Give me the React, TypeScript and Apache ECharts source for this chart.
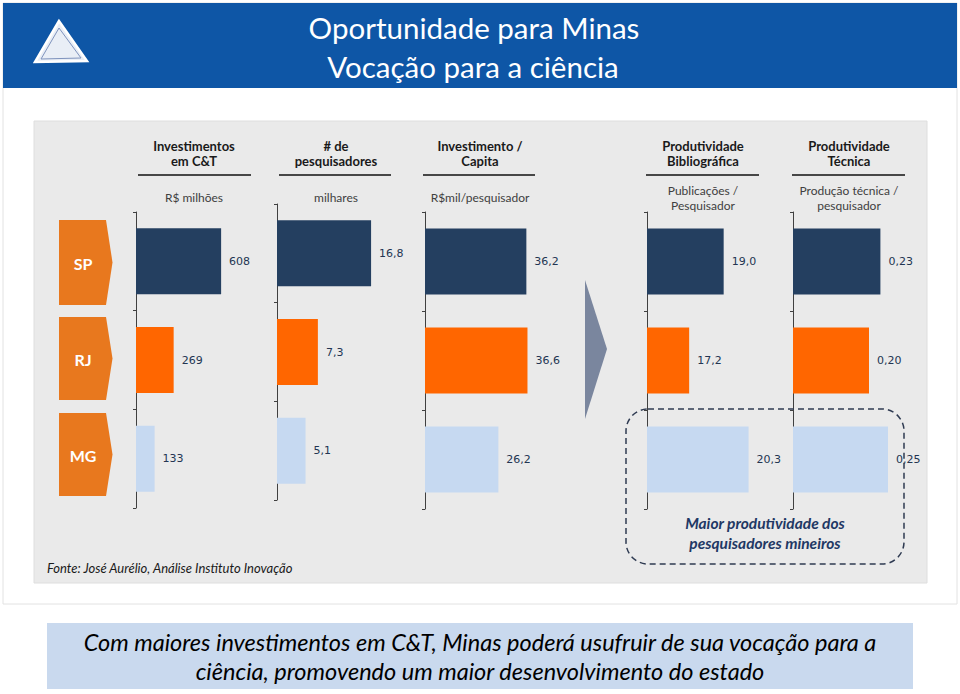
import React, { useEffect, useRef } from "react";
import * as echarts from "echarts";

const states = ["SP", "RJ", "MG"];
const investimentos = [608, 269, 133];
const pesquisadores = [16.8, 7.3, 5.1];
const investPorCapita = [36.2, 36.6, 26.2];
const prodBibliografica = [19.0, 17.2, 20.3];
const prodTecnica = [0.23, 0.2, 0.25];

const headerLine1 = ["Investimentos", "# de", "Investimento /", "Produtividade", "Produtividade"];
const headerLine2 = ["em C&T", "pesquisadores", "Capita", "Bibliográfica", "Técnica"];
const unitLine1 = ["R$ milhões", "milhares", "R$mil/pesquisador", "Publicações /", "Produção técnica /"];
const unitLine2 = ["", "", "", "Pesquisador", "pesquisador"];

const stateColors = ["#243F60", "#FF6600", "#C6D9F1"];

const FONT = "Lato, 'Open Sans', sans-serif";

export default function App() {
  const ref = useRef<HTMLDivElement>(null);

  useEffect(() => {
    if (!ref.current) return;
    const chart = echarts.init(ref.current, null, { renderer: "svg" });

    const columns = [
      { data: investimentos, left: 136, top: 212, height: 296, width: 112, min: 0, max: 800, dec: 0, cx: 194 },
      { data: pesquisadores, left: 277, top: 204, height: 296, width: 112, min: 0, max: 20, dec: 1, cx: 336 },
      { data: investPorCapita, left: 425, top: 212, height: 297, width: 112, min: 0, max: 40, dec: 1, cx: 480 },
      { data: prodBibliografica, left: 647, top: 212, height: 297, width: 115, min: 15, max: 21, dec: 1, cx: 703 },
      { data: prodTecnica, left: 793, top: 212, height: 297, width: 114, min: 0, max: 0.3, dec: 2, cx: 849 },
    ];
    const underlines = [
      [138, 251],
      [279, 391],
      [423, 535],
      [646, 759],
      [792, 905],
    ];

    const grid = columns.map((c) => ({ left: c.left, top: c.top, width: c.width, height: c.height }));
    const xAxis = columns.map((c, i) => ({
      type: "value",
      gridIndex: i,
      min: c.min,
      max: c.max,
      show: false,
      splitLine: { show: false },
    }));
    const yAxis = columns.map((c, i) => ({
      type: "category",
      gridIndex: i,
      data: states,
      inverse: true,
      axisLine: { show: true, lineStyle: { color: "#404040", width: 1 } },
      axisTick: { show: true, length: 3, lineStyle: { color: "#404040" } },
      axisLabel: { show: false },
    }));
    const series = columns.map((c, i) => ({
      type: "bar",
      xAxisIndex: i,
      yAxisIndex: i,
      data: c.data,
      barWidth: 66,
      itemStyle: { color: (p: any) => stateColors[p.dataIndex] },
      label: {
        show: true,
        position: "right",
        distance: 8,
        color: "#233552",
        fontFamily: "'DejaVu Sans', Verdana, sans-serif",
        fontSize: 11,
        formatter: (p: any) => Number(p.value).toFixed(c.dec).replace(".", ","),
      },
    }));

    const txt = (text: string, x: number, y: number, o: any = {}) => ({
      type: "text",
      z: o.z ?? 5,
      style: {
        text,
        x,
        y,
        fill: o.fill ?? "#1a1a1a",
        fontFamily: o.fontFamily ?? FONT,
        fontSize: o.fontSize ?? 12,
        fontWeight: o.fontWeight ?? "normal",
        fontStyle: o.fontStyle ?? "normal",
        align: o.align ?? "center",
        textAlign: o.align ?? "center",
        verticalAlign: "middle",
        textVerticalAlign: "middle",
      },
    });

    const graphic: any[] = [];
    // page frame
    graphic.push({ type: "rect", z: -20, shape: { x: 3, y: 3, width: 954, height: 601 }, style: { fill: "#ffffff", stroke: "#e2e2e2", lineWidth: 1 } });
    // header band
    graphic.push({ type: "rect", z: -10, shape: { x: 3, y: 3, width: 954, height: 85 }, style: { fill: "#0E56A6" } });
    // logo
    graphic.push({ type: "polygon", z: 5, shape: { points: [[59, 21], [35, 62], [87, 61]] }, style: { fill: "#E9EEF6", stroke: "#ffffff", lineWidth: 2.5 } });
    graphic.push({ type: "polygon", z: 6, shape: { points: [[59, 28], [41, 59], [81, 58]] }, style: { fill: "none", stroke: "#7F93BD", lineWidth: 1 } });
    graphic.push(txt("Oportunidade para Minas", 474, 27, { fill: "#ffffff", fontSize: 29.5 }));
    graphic.push(txt("Vocação para a ciência", 473, 66, { fill: "#ffffff", fontSize: 29.5 }));
    // grey panel
    graphic.push({ type: "rect", z: -10, shape: { x: 34, y: 121, width: 893, height: 462 }, style: { fill: "#EAEAEA", stroke: "#DEDEDE", lineWidth: 1 } });

    columns.forEach((c, i) => {
      graphic.push(txt(headerLine1[i], c.cx, 146, { fontWeight: "bold", fontSize: 13 }));
      graphic.push(txt(headerLine2[i], c.cx, 161, { fontWeight: "bold", fontSize: 13 }));
      graphic.push({ type: "line", z: 5, shape: { x1: underlines[i][0], y1: 175, x2: underlines[i][1], y2: 175 }, style: { stroke: "#111111", lineWidth: 1.5 } });
      if (unitLine2[i]) {
        graphic.push(txt(unitLine1[i], c.cx, 190, { fill: "#404040", fontSize: 12 }));
        graphic.push(txt(unitLine2[i], c.cx, 205, { fill: "#404040", fontSize: 12 }));
      } else {
        graphic.push(txt(unitLine1[i], c.cx, 197, { fill: "#404040", fontSize: 12 }));
      }
    });

    // state chevrons
    const stateTops = [220, 317, 413];
    const stateBottoms = [305, 400, 496];
    states.forEach((s, i) => {
      const t = stateTops[i];
      const b = stateBottoms[i];
      const m = (t + b) / 2;
      graphic.push({
        type: "polygon",
        z: 5,
        shape: { points: [[59, t], [106, t], [112.5, m], [106, b], [59, b]] },
        style: { fill: "#E8781E" },
      });
      graphic.push(txt(s, 83, m + 1, { fill: "#ffffff", fontWeight: "bold", fontSize: 16 }));
    });

    // big arrow
    graphic.push({ type: "polygon", z: 5, shape: { points: [[585, 280], [607, 349], [585, 419]] }, style: { fill: "#7A869E" } });

    // dashed highlight
    graphic.push({
      type: "rect",
      z: 20,
      shape: { x: 626, y: 409, width: 278, height: 155, r: 22 },
      style: { fill: "none", stroke: "#2F3B52", lineWidth: 1.5, lineDash: [6, 4] },
    });
    graphic.push(txt("Maior produtividade dos", 765, 523, { fill: "#1F3864", fontWeight: "bold", fontStyle: "italic", fontSize: 15.5 }));
    graphic.push(txt("pesquisadores mineiros", 765, 543, { fill: "#1F3864", fontWeight: "bold", fontStyle: "italic", fontSize: 15.5 }));
    graphic.push(txt("Fonte: José Aurélio, Análise Instituto Inovação", 47, 568, { align: "left", fontStyle: "italic", fontSize: 13 }));

    // bottom banner
    graphic.push({ type: "rect", z: -10, shape: { x: 47, y: 623, width: 866, height: 66 }, style: { fill: "#C9D9EE" } });
    graphic.push(txt("Com maiores investimentos em C&T, Minas poderá usufruir de sua vocação para a", 480, 642, { fill: "#000000", fontStyle: "italic", fontSize: 23.5 }));
    graphic.push(txt("ciência, promovendo um maior desenvolvimento do estado", 480, 671, { fill: "#000000", fontStyle: "italic", fontSize: 23.5 }));

    chart.setOption({
      animation: false,
      backgroundColor: "#ffffff",
      grid,
      xAxis,
      yAxis,
      series,
      graphic,
    } as any);

    return () => chart.dispose();
  }, []);

  return (
    <div
      ref={ref}
      style={{ position: "fixed", left: 0, top: 0, width: 960, height: 694 }}
    />
  );
}
